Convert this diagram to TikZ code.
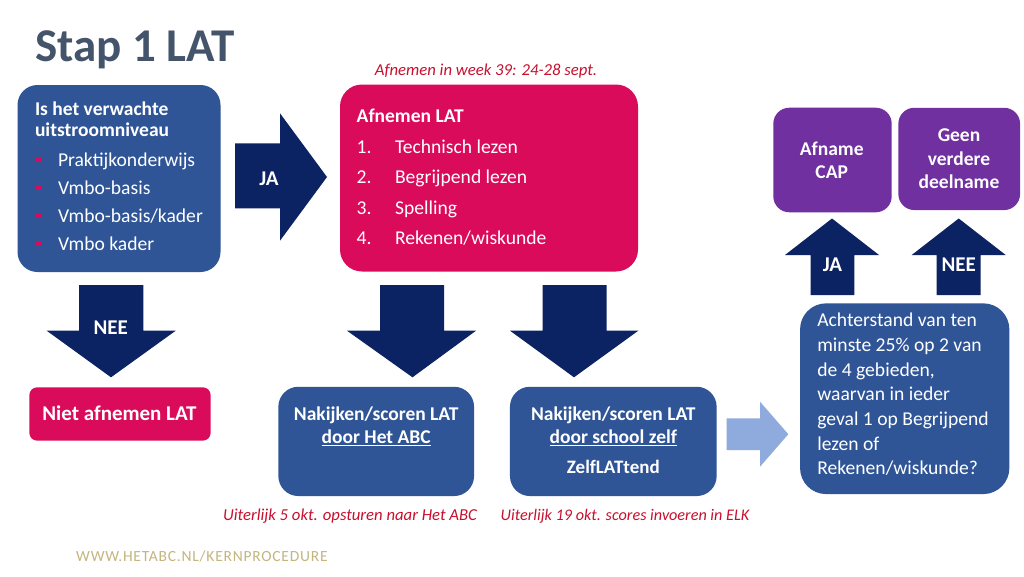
\documentclass[tikz,border=0pt]{standalone}
\usepackage{fontspec}
\setmainfont{Carlito}
\definecolor{boxblue}{HTML}{2F5597}
\definecolor{navy}{HTML}{0B2263}
\definecolor{pinkbox}{HTML}{DB0B5B}
\definecolor{purplebox}{HTML}{7030A0}
\definecolor{lightarrow}{HTML}{8FAADC}
\definecolor{redtxt}{HTML}{C8102E}
\definecolor{titlecol}{HTML}{44546A}
\definecolor{urlcol}{HTML}{C4B57F}
\newcommand\myfs[2]{\fontsize{#1}{#2}\selectfont}
\begin{document}
\begin{tikzpicture}[x=1pt,y=-1pt,
  blk/.style={draw=none, inner sep=0pt, outer sep=0pt, rectangle},
  bluebox/.style={blk, fill=boxblue, rounded corners=20pt},
  pinkbig/.style={blk, fill=pinkbox, rounded corners=22pt},
  pinksmall/.style={blk, fill=pinkbox, rounded corners=8pt},
  purpbox/.style={blk, fill=purplebox, rounded corners=16pt},
  wt/.style={text=white, inner sep=0pt, outer sep=0pt, font=\myfs{19.6}{21}},
  wb/.style={wt, font=\myfs{19.5}{21}\bfseries},
  arrowlbl/.style={wt, font=\myfs{21}{22}\bfseries},
  captxt/.style={text=redtxt, inner sep=0pt, font=\myfs{16.7}{18}\itshape},
  navyarrow/.style={fill=navy, draw=none},
  bullet/.style={fill=pinkbox, draw=none, minimum size=5pt, inner sep=0pt}
]
\path[use as bounding box, fill=white] (0,0) rectangle (1024,576);

% title
\node[anchor=base west, inner sep=0pt, text=titlecol, font=\myfs{47}{50}\bfseries] (title) at (35,61.7) {Stap 1 LAT};

% box 1
\node[bluebox, minimum width=203pt, minimum height=187pt] (q1) at (119,178.5) {};
\node[wb, anchor=base west] (q1h1) at (35,115) {Is het verwachte};
\node[wb, anchor=base west] (q1h2) at (35,136) {uitstroomniveau};
\foreach \t [count=\i from 0] in {Praktijkonderwijs, Vmbo-basis, Vmbo-basis/kader, Vmbo kader}{
  \node[bullet] (b\i) at (38.5,159.5+28*\i) {};
  \node[wt, anchor=base west] (l\i) at (58,166+28*\i) {\t};
}

% JA right arrow
\fill[navyarrow] (235,143.3) -- (280,143.3) -- (280,113.3) -- (327,177) -- (280,240.7) -- (280,208.3) -- (235,208.3) -- cycle;
\node[arrowlbl, anchor=base] (ja1) at (269,185) {JA};

% pink box
\node[captxt, anchor=base] (capweek) at (486,75) {Afnemen in week 39: 24-28 sept.};
\node[pinkbig, minimum width=298pt, minimum height=187pt] (afn) at (489,178) {};
\node[wb, anchor=base west] (afnh) at (356.7,122.7) {Afnemen LAT};
\foreach \t [count=\i from 1] in {Technisch lezen, Begrijpend lezen, Spelling, Rekenen/wiskunde}{
  \node[wt, anchor=base west] (n\i) at (356.7,122.7+30.5*\i) {\i.};
  \node[wt, anchor=base west] (t\i) at (395,122.7+30.5*\i) {\t};
}

% NEE down arrow
\fill[navyarrow] (79,285) -- (143.3,285) -- (143.3,330.7) -- (175.7,330.7) -- (111,377.3) -- (46.7,330.7) -- (79,330.7) -- cycle;
\node[arrowlbl, anchor=base] (nee1) at (110.7,334.3) {NEE};
\node[pinksmall, minimum width=181.4pt, minimum height=53.4pt] (niet) at (120,414) {};
\node[wt, anchor=base, font=\myfs{21}{22}\bfseries] (niett) at (119.5,420.7) {Niet afnemen LAT};

% down arrows middle
\fill[navyarrow] (380,285) -- (444,285) -- (444,330.7) -- (476,330.7) -- (412.5,377.3) -- (347,330.7) -- (380,330.7) -- cycle;
\fill[navyarrow] (542.7,285) -- (606.7,285) -- (606.7,330.7) -- (638.3,330.7) -- (574,377.3) -- (510,330.7) -- (542.7,330.7) -- cycle;

% box 2
\node[bluebox, minimum width=195.7pt, minimum height=109.3pt] (abc) at (376.2,441.4) {};
\node[wb, anchor=base] (abc1) at (376.2,420.7) {Nakijken/scoren LAT};
\node[wb, anchor=base] (abc2) at (376.2,443.3) {\underline{door Het ABC}};
\node[captxt, anchor=base] (cap2) at (350,520.5) {Uiterlijk 5 okt. opsturen naar Het ABC};

% box 3
\node[bluebox, minimum width=206.7pt, minimum height=109.3pt] (zelf) at (613.3,441.4) {};
\node[wb, anchor=base] (zelf1) at (613.3,420.7) {Nakijken/scoren LAT};
\node[wb, anchor=base] (zelf2) at (613.3,443.3) {\underline{door school zelf}};
\node[wb, anchor=base, font=\myfs{19}{20}\bfseries] (zelf3) at (613.3,473.3) {ZelfLATtend};
\node[captxt, anchor=base, font=\myfs{16.2}{18}\itshape] (cap3) at (625,520.5) {Uiterlijk 19 okt. scores invoeren in ELK};

% light arrow
\fill[lightarrow] (726.7,418.3) -- (760,418.3) -- (760,401.7) -- (788.3,434.2) -- (760,466.7) -- (760,450) -- (726.7,450) -- cycle;

% big question box
\node[bluebox, minimum width=209.3pt, minimum height=190.7pt, rounded corners=26pt] (ach) at (904.7,398.7) {};
\foreach \t [count=\i from 0] in {Achterstand van ten, minste 25\% op 2 van, {de 4 gebieden,}, waarvan in ieder, geval 1 op Begrijpend, lezen of, Rekenen/wiskunde?}{
  \node[wt, anchor=base west] (a\i) at (817.3,326.7+24.7*\i) {\t};
}

% up arrows
\fill[navyarrow] (810.7,295) -- (854.3,295) -- (854.3,255) -- (879,255) -- (832,218.5) -- (785,255) -- (810.7,255) -- cycle;
\node[arrowlbl, anchor=base] (ja2) at (832.5,271) {JA};
\fill[navyarrow] (936.7,295) -- (980.7,295) -- (980.7,255) -- (1005.7,255) -- (958.7,218.5) -- (911.7,255) -- (936.7,255) -- cycle;
\node[arrowlbl, anchor=base] (nee2) at (958.7,271) {NEE};

% purple boxes
\node[purpbox, minimum width=118.4pt, minimum height=104.6pt] (capb) at (832.5,160) {};
\node[wb, anchor=base] (capb1) at (831.7,155) {Afname};
\node[wb, anchor=base] (capb2) at (831.7,178.3) {CAP};
\node[purpbox, minimum width=121.7pt, minimum height=102.3pt] (geen) at (959.2,158.9) {};
\node[wb, anchor=base] (geen1) at (959,141.7) {Geen};
\node[wb, anchor=base] (geen2) at (959,165.3) {verdere};
\node[wb, anchor=base] (geen3) at (959,188.5) {deelname};

% url
\node[anchor=base west, inner sep=0pt, text=urlcol, font=\myfs{15.5}{17}\addfontfeature{LetterSpace=5}] (url) at (76,561) {WWW.HETABC.NL/KERNPROCEDURE};
\end{tikzpicture}
\end{document}
